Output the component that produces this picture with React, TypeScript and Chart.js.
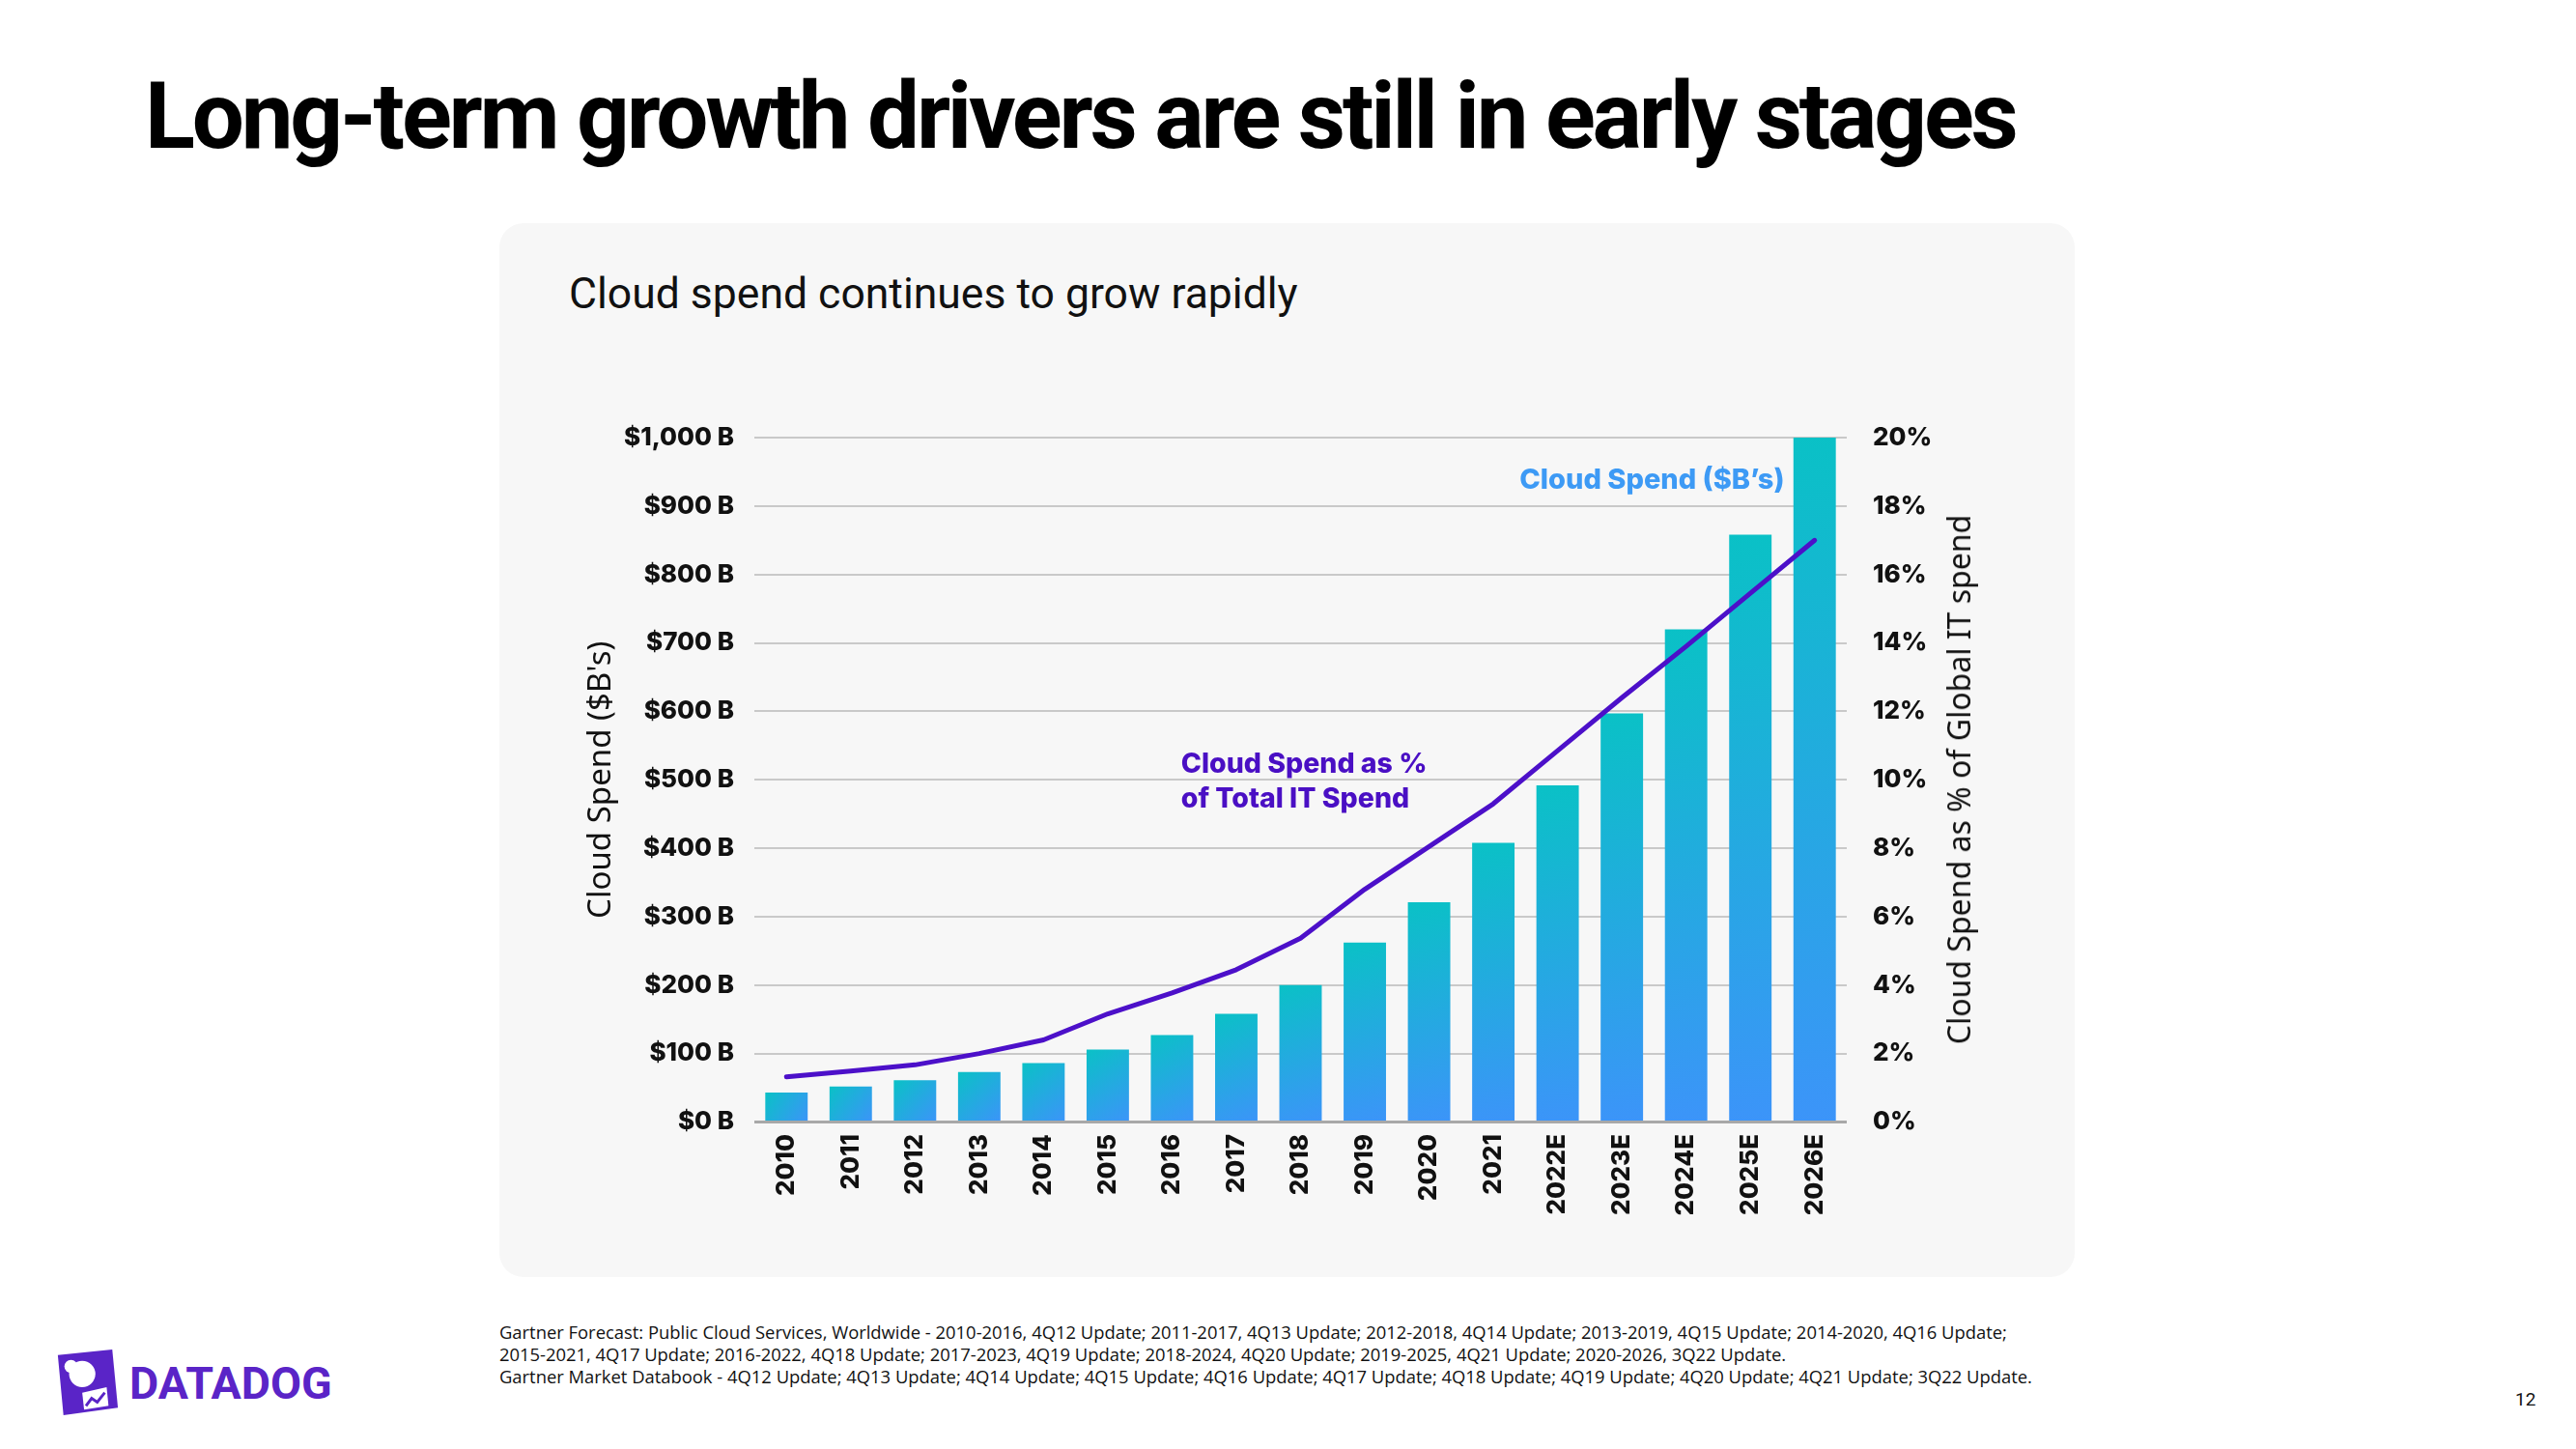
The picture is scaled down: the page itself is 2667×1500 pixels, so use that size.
import React, { useEffect, useRef } from "react";
import { Chart, registerables } from "chart.js";

Chart.register(...registerables);

const years = ["2010", "2011", "2012", "2013", "2014", "2015", "2016", "2017", "2018", "2019", "2020", "2021", "2022E", "2023E", "2024E", "2025E", "2026E"];
const cloudSpendB = [43, 52, 61, 73, 86, 106, 127, 158, 200, 262, 321, 408, 492, 597, 720, 858, 1000];
const cloudSharePct = [1.32, 1.49, 1.67, 2.0, 2.4, 3.16, 3.77, 4.45, 5.37, 6.8, 8.05, 9.3, 10.85, 12.4, 13.9, 15.45, 17.0];
const spendAxisTitle = "Cloud Spend ($B's)";
const shareAxisTitle = "Cloud Spend as % of Global IT spend";
const barLabel = "Cloud Spend ($B’s)";
const lineLabel = ["Cloud Spend as %", "of Total IT Spend"];

const TEAL = "#0ac1c6";
const BLUE = "#3c94f9";
const PURPLE = "#4c10c9";
const TICK_FONT = { family: "Inter", size: 26, weight: "800" as const };

const annotationPlugin = {
  id: "annotations",
  afterDatasetsDraw(chart: any) {
    const { ctx } = chart;
    const xs = chart.scales.x;
    const ys = chart.scales.y;
    ctx.save();
    ctx.textBaseline = "middle";
    ctx.font = "800 29px Inter";
    ctx.fillStyle = "#3d9af5";
    ctx.textAlign = "right";
    ctx.fillText(barLabel, xs.getPixelForValue(15.53), ys.getPixelForValue(938));
    ctx.font = "800 28.5px Inter";
    ctx.fillStyle = "#4a0fc4";
    ctx.textAlign = "left";
    ctx.fillText(lineLabel[0], xs.getPixelForValue(6.14), ys.getPixelForValue(523));
    ctx.fillText(lineLabel[1], xs.getPixelForValue(6.14), ys.getPixelForValue(471));
    ctx.restore();
  },
};

function CloudChart() {
  const ref = useRef<HTMLCanvasElement | null>(null);
  useEffect(() => {
    if (!ref.current) return;
    const chart = new Chart(ref.current, {
      type: "bar",
      data: {
        labels: years,
        datasets: [
          {
            type: "line",
            label: "share",
            data: cloudSharePct,
            yAxisID: "y2",
            borderColor: PURPLE,
            borderWidth: 5,
            pointRadius: 0,
            borderCapStyle: "round",
            borderJoinStyle: "round",
            tension: 0,
            order: 0,
          } as any,
          {
            type: "bar",
            label: "spend",
            data: cloudSpendB,
            yAxisID: "y",
            categoryPercentage: 1,
            barPercentage: 0.66,
            order: 1,
            backgroundColor: (c: any) => {
              const ch = c.chart;
              if (!ch.chartArea || c.type !== "data") return "#22acdf";
              const xs = ch.scales.x;
              const ys = ch.scales.y;
              const cx = xs.getPixelForValue(c.dataIndex);
              const top = ys.getPixelForValue(c.raw);
              const bottom = ys.getPixelForValue(0);
              const g = ch.ctx.createLinearGradient(cx - 22, top, cx + 22, bottom);
              g.addColorStop(0, TEAL);
              g.addColorStop(1, BLUE);
              return g;
            },
          } as any,
        ],
      },
      options: {
        animation: false,
        responsive: false,
        maintainAspectRatio: false,
        layout: { padding: { left: 80, right: 0, top: 222, bottom: 20.5 } },
        plugins: { legend: { display: false }, tooltip: { enabled: false }, title: { display: false } },
        scales: {
          x: {
            type: "category",
            offset: true,
            grid: { display: false, drawTicks: false },
            border: { display: false },
            ticks: { color: "#111", font: TICK_FONT, minRotation: 90, maxRotation: 90, padding: 12.5, autoSkip: false },
            afterFit: (s: any) => { s.height = 140; },
          },
          y: {
            position: "left",
            min: 0,
            max: 1000,
            grid: {
              drawTicks: false,
              color: (c: any) => (c.tick && c.tick.value === 0 ? "#a8a8a8" : "#c9c9c9"),
              lineWidth: (c: any) => (c.tick && c.tick.value === 0 ? 3 : 2),
            },
            border: { display: false },
            ticks: {
              stepSize: 100,
              padding: 21,
              color: "#111",
              font: TICK_FONT,
              callback: (v: any) => "$" + Number(v).toLocaleString("en-US") + " B",
            },
            title: { display: true, text: spendAxisTitle, color: "#111", font: { family: "Noto Sans", size: 33, weight: "400" as const }, padding: { top: 6, bottom: 0 } },
            afterFit: (s: any) => { s.width = 184; },
          },
          y2: {
            position: "right",
            min: 0,
            max: 20,
            grid: { display: false, drawTicks: false },
            border: { display: false },
            ticks: {
              stepSize: 2,
              padding: 27,
              color: "#111",
              font: TICK_FONT,
              callback: (v: any) => v + "%",
            },
            afterFit: (s: any) => { s.width = 236; },
          },
        },
      },
      plugins: [annotationPlugin],
    });
    return () => chart.destroy();
  }, []);
  return <canvas ref={ref} width={1631} height={1091} style={{ position: "absolute", left: 0, top: 0, width: 1631, height: 1091 }} />;
}

function Logo() {
  return (
    <div style={{ position: "absolute", left: 56, top: 1396, height: 72, display: "flex", alignItems: "center" }}>
      <svg width="68" height="70" viewBox="0 0 70 72">
        <polygon points="4,6 62,0 68,62 10,70" fill="#5a24c7" />
        <circle cx="30" cy="26" r="14" fill="#fff" />
        <circle cx="18" cy="18" r="7" fill="#fff" />
        <polygon points="30,46 56,40 58,60 32,64" fill="#fff" />
        <polyline points="34,60 40,52 46,56 54,46" fill="none" stroke="#5a24c7" strokeWidth="3" />
      </svg>
      <span style={{ marginLeft: 10, fontFamily: "Roboto", fontWeight: 700, fontSize: 46.5, color: "#5a24c7", letterSpacing: 0 }}>DATADOG</span>
    </div>
  );
}

export default function App() {
  useEffect(() => {
    document.body.style.margin = "0";
  }, []);
  return (
    <div style={{ position: "absolute", left: 0, top: 0, width: 2667, height: 1500, background: "#fff", overflow: "hidden", fontFamily: "Roboto" }}>
      <div style={{ position: "absolute", left: 150, top: 72, fontFamily: "Roboto", fontWeight: 700, fontSize: 96, lineHeight: 1, letterSpacing: "-3.2px", color: "#000", whiteSpace: "nowrap" }}>
        Long-term growth drivers are still in early stages
      </div>
      <div style={{ position: "absolute", left: 517, top: 231, width: 1631, height: 1091, background: "#f7f7f7", borderRadius: 25 }}>
        <div style={{ position: "absolute", left: 72, top: 51, fontFamily: "Roboto", fontWeight: 400, fontSize: 44.5, lineHeight: 1, color: "#111", whiteSpace: "nowrap" }}>
          Cloud spend continues to grow rapidly
        </div>
        <CloudChart />
      </div>
      <div style={{ position: "absolute", left: 2028, top: 807, transform: "translate(-50%, -50%) rotate(-90deg)", fontFamily: "Noto Sans", fontSize: 32, lineHeight: 1, color: "#111", whiteSpace: "nowrap" }}>
        {shareAxisTitle}
      </div>
      <div style={{ position: "absolute", left: 517, top: 1367, fontFamily: "Open Sans", fontSize: 18.4, lineHeight: "23px", color: "#111", whiteSpace: "nowrap" }}>
        <div>Gartner Forecast: Public Cloud Services, Worldwide - 2010-2016, 4Q12 Update; 2011-2017, 4Q13 Update; 2012-2018, 4Q14 Update; 2013-2019, 4Q15 Update; 2014-2020, 4Q16 Update;</div>
        <div>2015-2021, 4Q17 Update; 2016-2022, 4Q18 Update; 2017-2023, 4Q19 Update; 2018-2024, 4Q20 Update; 2019-2025, 4Q21 Update; 2020-2026, 3Q22 Update.</div>
        <div>Gartner Market Databook - 4Q12 Update; 4Q13 Update; 4Q14 Update; 4Q15 Update; 4Q16 Update; 4Q17 Update; 4Q18 Update; 4Q19 Update; 4Q20 Update; 4Q21 Update;  3Q22 Update.</div>
      </div>
      <Logo />
      <div style={{ position: "absolute", left: 2604, top: 1439, fontFamily: "Roboto", fontSize: 19, lineHeight: 1, color: "#111" }}>12</div>
    </div>
  );
}
